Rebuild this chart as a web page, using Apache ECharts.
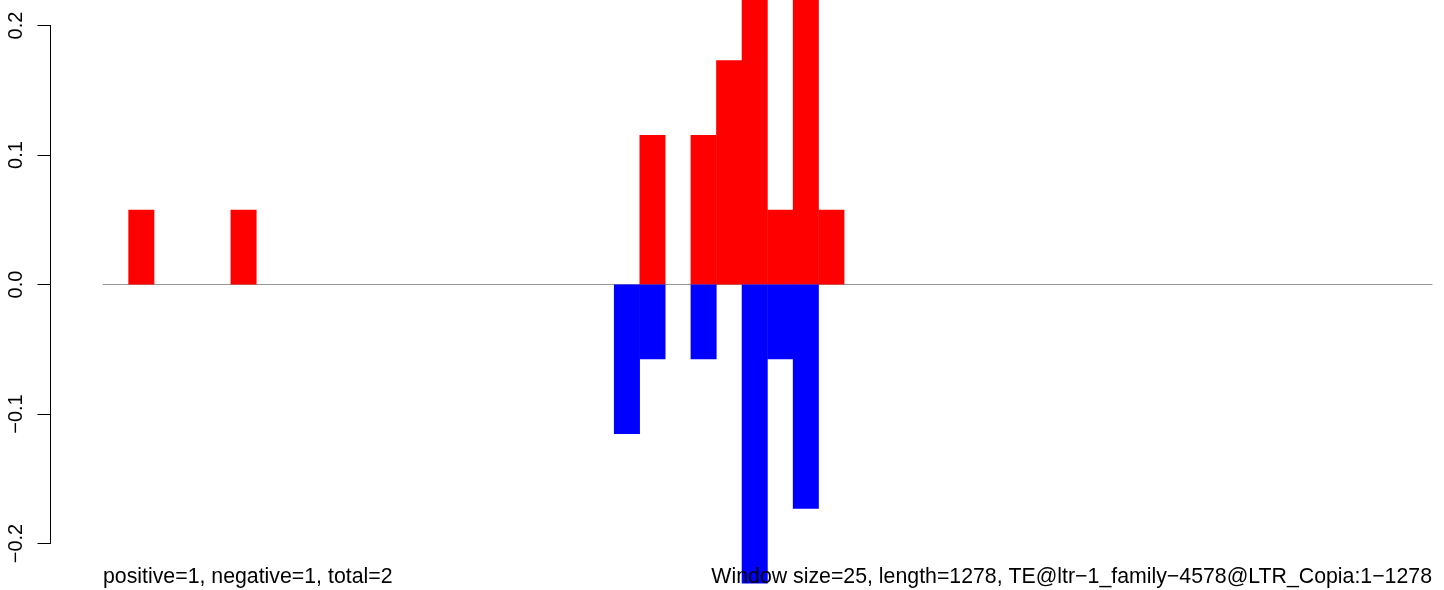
<!DOCTYPE html>
<html>
<head>
<meta charset="utf-8">
<script src="https://cdn.jsdelivr.net/npm/echarts@6/dist/echarts.min.js"></script>
<style>
html,body{margin:0;padding:0;background:#fff;}
#chart{width:1444px;height:590px;}
</style>
</head>
<body>
<div id="chart"></div>
<script>
// Window indices (52 windows of size 25 over length 1278)
var windows = [1,2,3,4,5,6,7,8,9,10,11,12,13,14,15,16,17,18,19,20,21,22,23,24,25,26,
               27,28,29,30,31,32,33,34,35,36,37,38,39,40,41,42,43,44,45,46,47,48,49,50,51,52];
// Positive-strand values per window
var positiveValues = [0,0.0577,0,0,0,0.0577,0,0,0,0,0,0,0,0,0,0,0,0,0,0,0,0.1155,0,0.1155,0.1732,0.2309,
                      0.0577,0.2309,0.0577,0,0,0,0,0,0,0,0,0,0,0,0,0,0,0,0,0,0,0,0,0,0,0];
// Negative-strand values per window
var negativeValues = [0,0,0,0,0,0,0,0,0,0,0,0,0,0,0,0,0,0,0,0,-0.1155,-0.0577,0,-0.0577,0,-0.2309,
                      -0.0577,-0.1732,0,0,0,0,0,0,0,0,0,0,0,0,0,0,0,0,0,0,0,0,0,0,0,0];
// Y tick labels
var yTicks = [-0.2, -0.1, 0.0, 0.1, 0.2];
var leftText = 'positive=1, negative=1, total=2';
var rightText = 'Window size=25, length=1278, TE@ltr\u22121_family\u22124578@LTR_Copia:1\u22121278';

function skipZero(arr) { return arr.map(function (v) { return v === 0 ? '-' : v; }); }

var FONT = "'Liberation Sans', Arial, Helvetica, sans-serif";
var chart = echarts.init(document.getElementById('chart'), null, {renderer: 'canvas'});
var option = {
  animation: false,
  backgroundColor: '#ffffff',
  title: [
    {text: leftText, left: 103, top: 567, padding: 0,
     textStyle: {fontFamily: FONT, fontSize: 21.3, fontWeight: 'normal', color: '#000'}},
    {text: rightText, right: 12, top: 567, padding: 0,
     textStyle: {fontFamily: FONT, fontSize: 21.3, fontWeight: 'normal', color: '#000'}}
  ],
  grid: [
    {left: 103, right: 12, top: 0, bottom: 0, containLabel: false},
    {left: 103, right: 12, top: 25.5, height: 518, containLabel: false}
  ],
  xAxis: [
    {type: 'category', gridIndex: 0, data: windows, boundaryGap: true,
     axisLine: {show: true, onZero: true, lineStyle: {color: '#999999', width: 1}},
     axisTick: {show: false}, axisLabel: {show: false}, splitLine: {show: false}, z: 1},
    {type: 'category', gridIndex: 1, data: windows, show: false}
  ],
  yAxis: [
    {type: 'value', gridIndex: 0, min: -0.2360, max: 0.21978, show: false, splitLine: {show: false}},
    {type: 'value', gridIndex: 1, min: yTicks[0], max: yTicks[yTicks.length - 1], interval: 0.1,
     position: 'left', offset: 52.5,
     axisLine: {show: true, lineStyle: {color: '#000', width: 1}},
     axisTick: {show: true, length: 13, inside: false, lineStyle: {color: '#000', width: 1}},
     splitLine: {show: false},
     axisLabel: {show: true, rotate: 90, margin: 24, fontFamily: FONT, fontSize: 20, color: '#000',
       formatter: function (v) { return v.toFixed(1).replace('-', '\u2212'); }}}
  ],
  series: [
    {type: 'bar', xAxisIndex: 0, yAxisIndex: 0, data: skipZero(positiveValues), barWidth: 26, barGap: '-100%',
     itemStyle: {color: '#ff0000'}, clip: true, silent: true, z: 2},
    {type: 'bar', xAxisIndex: 0, yAxisIndex: 0, data: skipZero(negativeValues), barWidth: 26, barGap: '-100%',
     itemStyle: {color: '#0000ff'}, clip: true, silent: true, z: 2}
  ]
};
chart.setOption(option);
</script>
</body>
</html>
